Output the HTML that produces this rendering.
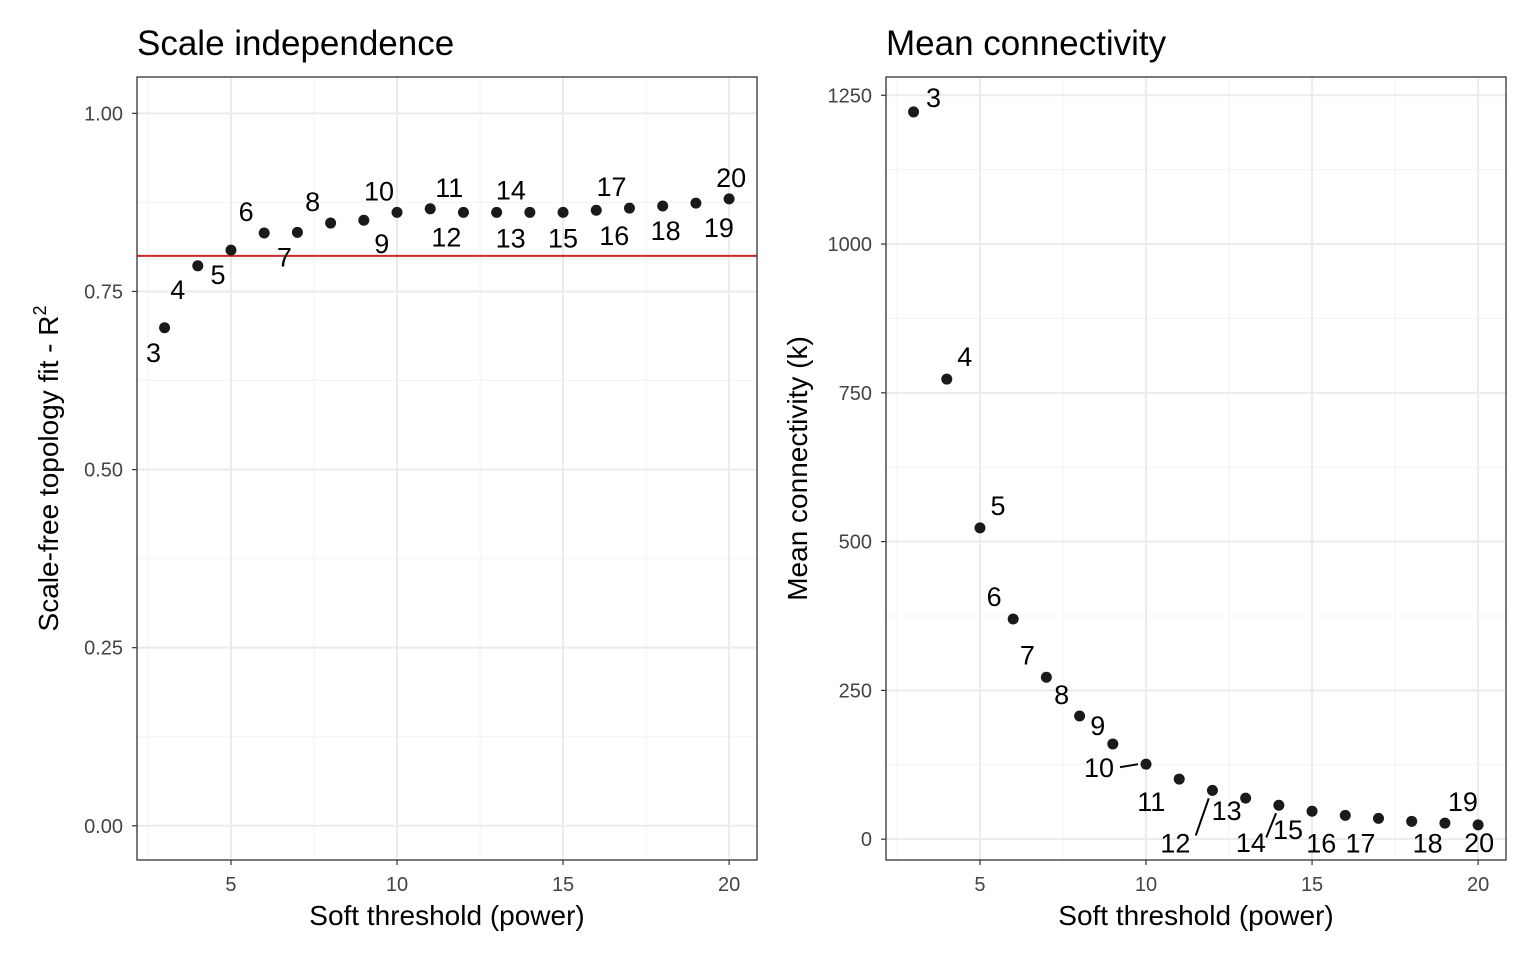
<!DOCTYPE html>
<html><head><meta charset="utf-8"><style>
html,body{margin:0;padding:0;background:#fff;}
svg{display:block;font-family:"Liberation Sans",Arial,sans-serif;}
</style></head><body>
<svg id="c" width="1536" height="960" viewBox="0 0 1536 960" xmlns="http://www.w3.org/2000/svg"></svg>
<script>
const powers=[3,4,5,6,7,8,9,10,11,12,13,14,15,16,17,18,19,20];
const rsq=[0.699,0.786,0.808,0.832,0.833,0.846,0.850,0.861,0.866,0.861,0.861,0.861,0.861,0.864,0.867,0.870,0.874,0.880];
const meanK=[1222,773,523,370,272,207,160,126,101,82,69,57,47,40,35,30,27,24];
const xTicks=[5,10,15,20];
const yTicksL=[0,0.25,0.5,0.75,1.0];
const yTickLabelsL=["0.00","0.25","0.50","0.75","1.00"];
const yTicksR=[0,250,500,750,1000,1250];
const cutoff=0.8;
// label offsets (px) from points – layout only
const offL=[[-11,25],[-20,24],[-13,25],[-18,-21],[-13,25],[-18,-21],[18,24],[-18,-21],[19,-21],[-17,25],[14,26],[-19,-22],[0,26],[18,26],[-18,-21],[3,25],[23,25],[2,-21]];
const offR=[[20,-14],[18,-22],[18,-22],[-19,-22],[-19,-22],[-18,-21],[-15,-18],[-47,4],[-28,23],[-37,53],[-19,13],[-28,38],[-24,19],[-24,28],[-18,25],[16,22],[18,-21],[1,18]];
const segR={7:true,9:true,11:true};

const svg=document.getElementById('c');
const NS='http://www.w3.org/2000/svg';
function el(tag,attrs,parent){const e=document.createElementNS(NS,tag);for(const k in attrs)e.setAttribute(k,attrs[k]);(parent||svg).appendChild(e);return e;}

function panel(cfg){
  const g=el('g',{});
  
  
  const L=cfg.left,R=cfg.right,T=77,B=860;
  const xs=v=>L+(v-cfg.xmin)/(cfg.xmax-cfg.xmin)*(R-L);
  const ys=v=>B-(v-cfg.ymin)/(cfg.ymax-cfg.ymin)*(B-T);
  for(let v=2.5;v<=cfg.xmax;v+=5){const l=el('line',{x1:xs(v),x2:xs(v),y1:T,y2:B,stroke:'#f3f3f3','stroke-width':1},g);}
  cfg.yMinor.forEach(v=>{const l=el('line',{x1:L,x2:R,y1:ys(v),y2:ys(v),stroke:'#f3f3f3','stroke-width':1},g);});
  xTicks.forEach(v=>{const l=el('line',{x1:xs(v),x2:xs(v),y1:T,y2:B,stroke:'#ebebeb','stroke-width':2},g);
    const t=el('line',{x1:xs(v),x2:xs(v),y1:B,y2:B+5,stroke:'#333','stroke-width':1.2},g);
    const tx=el('text',{x:xs(v),y:B+31,'font-size':20,fill:'#444','text-anchor':'middle'},g);tx.textContent=v;});
  cfg.yTicks.forEach((v,i)=>{const l=el('line',{x1:L,x2:R,y1:ys(v),y2:ys(v),stroke:'#ebebeb','stroke-width':2},g);
    const t=el('line',{x1:L-5,x2:L,y1:ys(v),y2:ys(v),stroke:'#333','stroke-width':1.2},g);
    const tx=el('text',{x:L-14,y:ys(v)+7,'font-size':20,fill:'#444','text-anchor':'end'},g);tx.textContent=cfg.yLabels[i];});
  if(cfg.hline!==undefined){const h=el('line',{x1:L,x2:R,y1:ys(cfg.hline),y2:ys(cfg.hline),stroke:'#cc2a2a','stroke-width':2},g);}
  powers.forEach((p,i)=>{
    const cx=xs(p),cy=ys(cfg.vals[i]);const o=cfg.off[i];
    if(cfg.segs&&cfg.segs[i]){const s=el('line',{stroke:'#000','stroke-width':2},g);
      s.setAttribute('x1',cx+(o[0]<-40?-8:o[0]*0.1));s.setAttribute('y1',cy+(o[1]>20?8:0));
      s.setAttribute('x2',cx+(o[0]<-40?-26:o[0]*0.45));s.setAttribute('y2',cy+(o[1]>20?o[1]*0.85:3));
      }
    const c=el('circle',{cx:cx,cy:cy,r:5.5,fill:'#1a1a1a'},g);
    const t=el('text',{x:cx+o[0],y:cy+o[1]+9,'font-size':27,fill:'#000','text-anchor':'middle'},g);t.textContent=p;
  });
  const fr=el('rect',{x:L,y:T,width:R-L,height:B-T,fill:'none',stroke:'#333','stroke-width':1.3},g);
  const tt=el('text',{x:L,y:55,'font-size':35,fill:'#000'},g);tt.textContent=cfg.title;
  const xt=el('text',{x:(L+R)/2,y:925,'font-size':28,fill:'#000','text-anchor':'middle'},g);xt.textContent='Soft threshold (power)';
  const yt=el('text',{x:0,y:0,'font-size':28,fill:'#000','text-anchor':'middle',transform:'translate('+cfg.ytx+','+(T+B)/2+') rotate(-90)'},g);
  
  if(cfg.sup){yt.textContent=cfg.ytitle;const s=el('tspan',{'font-size':18,dy:-12},yt);s.textContent='2';}else yt.textContent=cfg.ytitle;
}
panel({name:'scale-independence-panel',left:137,right:757,xmin:2.17,xmax:20.84,ymin:-0.048,ymax:1.051,vals:rsq,off:offL,
  yTicks:yTicksL,yLabels:yTickLabelsL,yMinor:[0.125,0.375,0.625,0.875],hline:cutoff,title:'Scale independence',ytitle:'Scale-free topology fit - R',sup:true,ytx:58});
panel({name:'mean-connectivity-panel',left:886,right:1506,xmin:2.17,xmax:20.84,ymin:-35,ymax:1280.7,vals:meanK,off:offR,segs:segR,
  yTicks:yTicksR,yLabels:yTicksR.map(String),yMinor:[125,375,625,875,1125],title:'Mean connectivity',ytitle:'Mean connectivity (k)',ytx:807});
</script>
</body></html>
